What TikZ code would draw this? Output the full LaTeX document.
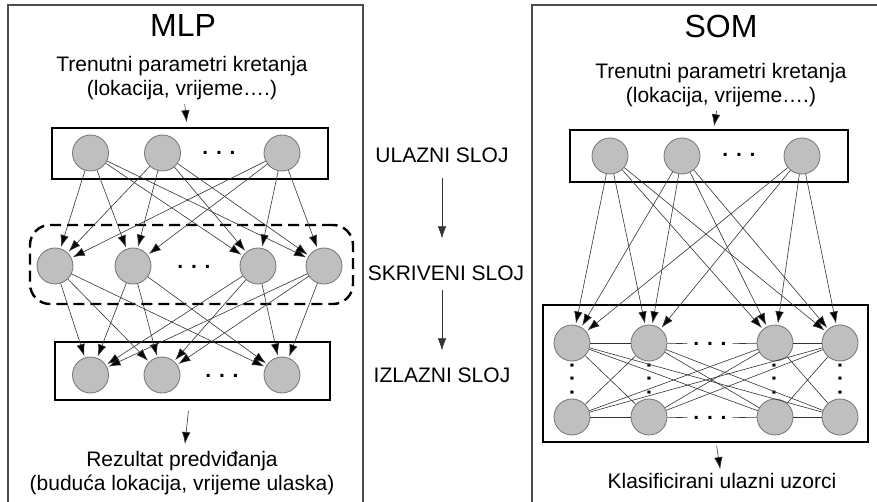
\documentclass[tikz,border=0pt]{standalone}
\usepackage{fontspec}
\setmainfont{Liberation Sans}
\usetikzlibrary{arrows.meta}

\tikzstyle{neuron}=[circle, draw=black!55, fill=black!25, line width=0.8pt, minimum size=36pt, inner sep=0pt]
\tikzstyle{layerbox}=[draw=black, line width=1.6pt, inner sep=0pt]
\tikzstyle{hiddenbox}=[draw=black, line width=2.4pt, dash pattern=on 11pt off 6pt, rounded corners=20pt, inner sep=0pt]
\tikzstyle{panel}=[draw=black!70, line width=1.2pt]
\tikzstyle{txt}=[font=\fontsize{21}{24}\selectfont, align=center, inner sep=0pt]
\tikzstyle{title}=[font=\fontsize{32}{36}\selectfont, inner sep=0pt]
\tikzstyle{dotrow}=[font=\bfseries\fontsize{21}{24}\selectfont, inner sep=0pt]
\tikzstyle{link}=[draw=black!80, line width=0.6pt]
\tikzstyle{arr}=[link, ->, shorten >=1.5pt]

\begin{document}
\begin{tikzpicture}[x=1pt,y=-1pt,>={Latex[length=12pt,width=8.5pt]}]
\useasboundingbox (0,0) rectangle (877,502);

% panels
\draw [panel] (8,502) -- (8,5) -- (363,5) -- (363,502);
\draw [panel] (532,502) -- (532,5) -- (877,5);

% MLP
\node [title] (mlp) at (183,25) {MLP};
\node [txt] (min) at (182,78) {Trenutni parametri kretanja\\(lokacija, vrijeme….)};
\node [layerbox, minimum width=276pt, minimum height=51pt] (inbox) at (190,153.5) {};
\node [hiddenbox, minimum width=323pt, minimum height=79pt] (hidbox) at (191.5,264.5) {};
\node [layerbox, minimum width=275pt, minimum height=58pt] (outbox) at (192.5,371) {};
\node [txt] (mout) at (182,473) {Rezultat predviđanja\\(buduća lokacija, vrijeme ulaska)};

\node [neuron] (I1) at (90.5,153) {};
\node [neuron] (I2) at (162.5,153) {};
\node [neuron] (I3) at (282,153) {};
\node [dotrow] (Id) at (219,153) {. . .};

\node [neuron] (H1) at (55,266) {};
\node [neuron] (H2) at (133,266) {};
\node [neuron] (H3) at (258,266) {};
\node [neuron] (H4) at (324,266) {};
\node [dotrow] (Hd) at (194,267) {. . .};

\node [neuron] (O1) at (90.5,375) {};
\node [neuron] (O2) at (162,375) {};
\node [neuron] (O3) at (282,375) {};
\node [dotrow] (Od) at (222,376) {. . .};

\path [arr]
		(I1) edge (H1) (I1) edge (H2) (I1) edge (H3) (I1) edge (H4)
		(I2) edge (H1) (I2) edge (H2) (I2) edge (H3) (I2) edge (H4)
		(I3) edge (H1) (I3) edge (H2) (I3) edge (H3) (I3) edge (H4)

		(H1) edge (O1) (H1) edge (O2) (H1) edge (O3)
		(H2) edge (O1) (H2) edge (O2) (H2) edge (O3)
		(H3) edge (O1) (H3) edge (O2) (H3) edge (O3)
		(H4) edge (O1) (H4) edge (O2) (H4) edge (O3)

		(min) edge [shorten <=4pt, shorten >=5pt] (inbox)
		(outbox) edge [shorten <=10pt, shorten >=7pt] (mout)
;

% layers
\node [txt] (ul) at (442,155) {ULAZNI SLOJ};
\node [txt] (sk) at (446,273) {SKRIVENI SLOJ};
\node [txt] (iz) at (442,375) {IZLAZNI SLOJ};
\draw [arr, shorten <=15pt, shorten >=27pt] (ul) -- (ul |- sk.north);
\draw [arr, shorten <=9pt, shorten >=17pt] (ul |- sk.south) -- (iz);

% SOM
\node [title] (som) at (721,26) {SOM};
\node [txt] (sin) at (721,85) {Trenutni parametri kretanja\\(lokacija, vrijeme….)};
\node [layerbox, minimum width=278pt, minimum height=52pt] (sinbox) at (709,156) {};
\node [layerbox, minimum width=325pt, minimum height=137pt] (mapbox) at (705.5,373.5) {};
\node [txt] (sout) at (722,481) {Klasificirani ulazni uzorci};

\node [neuron] (S1) at (610,156) {};
\node [neuron] (S2) at (682,156) {};
\node [neuron] (S3) at (802,156) {};
\node [dotrow] (Sd) at (739,155) {. . .};

\node [neuron] (A1) at (572,343) {};
\node [neuron] (A2) at (649,343) {};
\node [neuron] (A3) at (775,343) {};
\node [neuron] (A4) at (840,343) {};
\node [dotrow, inner xsep=6pt] (Ad) at (710,344) {. . .};

\node [neuron] (B1) at (572,417) {};
\node [neuron] (B2) at (649,417) {};
\node [neuron] (B3) at (775,417) {};
\node [neuron] (B4) at (840,417) {};
\node [dotrow, inner xsep=6pt] (Bd) at (710,418) {. . .};

\node [dotrow, rotate=90] (V1) at (572,379) {. . .};
\node [dotrow, rotate=90] (V2) at (649,379) {. . .};
\node [dotrow, rotate=90] (V3) at (774,379) {. . .};
\node [dotrow, rotate=90] (V4) at (840,379) {. . .};

\path [link]
		(A1) edge (A2) (A2) edge (Ad) (Ad) edge (A3) (A3) edge (A4)
		(B1) edge (B2) (B2) edge (Bd) (Bd) edge (B3) (B3) edge (B4)

		(A1) edge (B2) (A1) edge (B3) (A1) edge (B4)
		(A2) edge (B1) (A2) edge (B3) (A2) edge (B4)
		(A3) edge (B1) (A3) edge (B2) (A3) edge (B4)
		(A4) edge (B1) (A4) edge (B2) (A4) edge (B3)
;

\path [arr]
		(S1) edge (A1) (S1) edge (A2) (S1) edge (A3) (S1) edge (A4)
		(S2) edge (A1) (S2) edge (A2) (S2) edge (A3) (S2) edge (A4)
		(S3) edge (A1) (S3) edge (A2) (S3) edge (A3) (S3) edge (A4)

		(sin) edge [shorten <=4pt, shorten >=3pt] (sinbox)
		(mapbox) edge [shorten <=3pt, shorten >=4pt] (sout)
;

\end{tikzpicture}
\end{document}
